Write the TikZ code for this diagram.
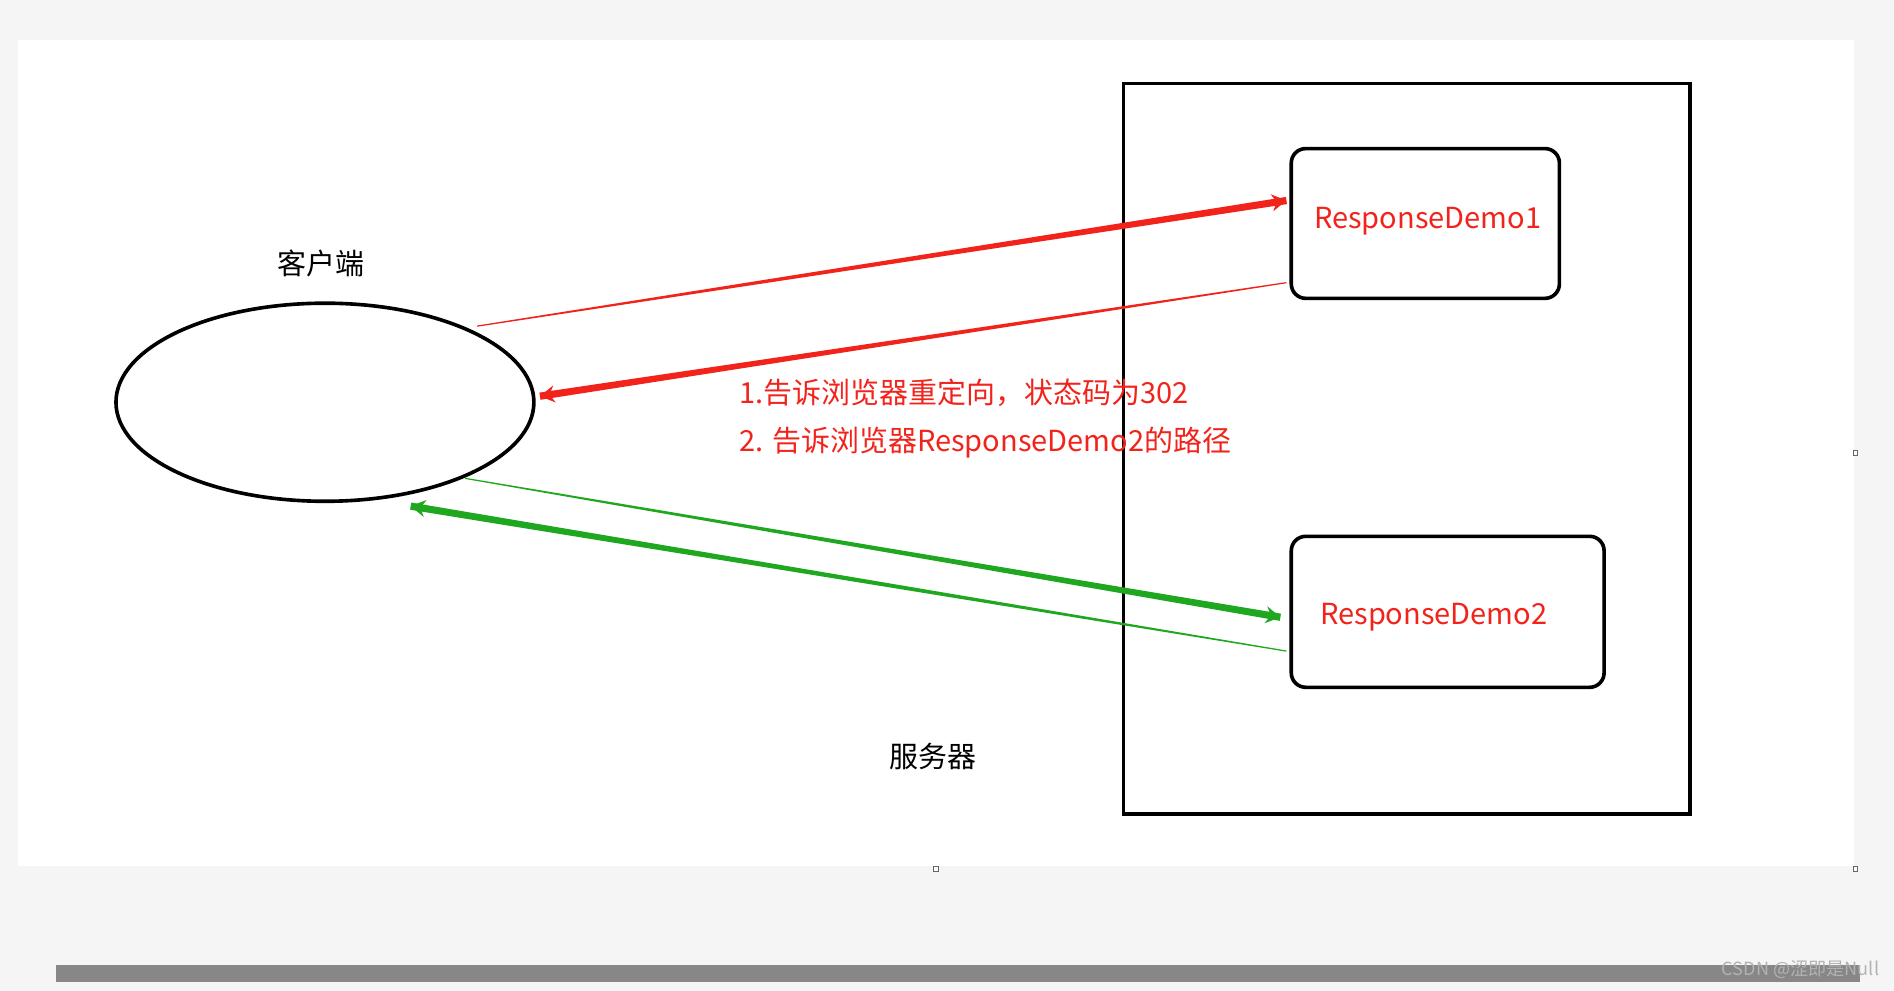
\documentclass[tikz,border=0pt]{standalone}
\usepackage{fontspec}
\setmainfont{Noto Sans CJK SC}
\usetikzlibrary{calc,arrows.meta,shapes.geometric}
\definecolor{rd}{HTML}{F2231B}
\definecolor{gn}{HTML}{1FA81F}
\newcommand{\taper}[3]{%
  \fill[#3] ($(#1)!0.5pt!90:(#2)$) -- ($(#2)!3pt!-90:(#1)$) -- ($(#2)!3pt!90:(#1)$) -- ($(#1)!0.5pt!-90:(#2)$) -- cycle;
  \draw[#3,line width=4pt,-{Stealth[length=12pt,width=14pt]}] ($(#2)!6pt!(#1)$) -- (#2);}
\tikzset{lbl/.style={font=\fontsize{24}{28}\selectfont,inner sep=0pt},
  box/.style={draw,line width=3pt,rounded corners=12pt}}
\begin{document}
\begin{tikzpicture}[x=1pt,y=-1pt]
\useasboundingbox (0,0) rectangle (1568,820);
\fill[black!4] (0,0) rectangle (1568,820);
\fill[white] (15,33) rectangle (1535,717);
\draw[line width=3pt] (930,69) rectangle (1399,674);
\node[box,minimum width=222pt,minimum height=124pt] (b1) at (1180,185) {};
\node[lbl,text=rd] at (1182,183) {ResponseDemo1};
\node[box,minimum width=259pt,minimum height=125pt] (b2) at (1198.5,506.5) {};
\node[lbl,text=rd] at (1187,511) {ResponseDemo2};
\node[draw,ellipse,line width=3pt,minimum width=346pt,minimum height=164pt] (cl) at (269,333) {};
\node[lbl] at (266,218) {客户端};
\node[lbl] at (772,626) {服务器};
\node[lbl,text=rd,anchor=west] (t1) at (612,325) {1.告诉浏览器重定向，状态码为302};
\node[lbl,text=rd,anchor=west] (t2) at (612,366) {2. 告诉浏览器ResponseDemo2的路径};
\coordinate (r1s) at (395,270); \coordinate (r1e) at (1065,166);
\coordinate (r2s) at (1065,234); \coordinate (r2e) at (447,328);
\coordinate (g1s) at (385,396); \coordinate (g1e) at (1060,511);
\coordinate (g2s) at (1065,539); \coordinate (g2e) at (340,419);
\taper{r1s}{r1e}{rd}
\taper{r2s}{r2e}{rd}
\taper{g1s}{g1e}{gn}
\taper{g2s}{g2e}{gn}
\fill[black!47] (46,799) rectangle (1540,813);
\node[font=\fontsize{15}{17}\selectfont,text=black!30,anchor=east,inner sep=0pt] at (1556,803) {CSDN @涩即是Null};
\foreach \p in {(775,719),(1536,375),(1536,719)} \draw[black!60,fill=white,line width=0.6pt] \p ++(-2,-2) rectangle ++(4,4);
\end{tikzpicture}
\end{document}
